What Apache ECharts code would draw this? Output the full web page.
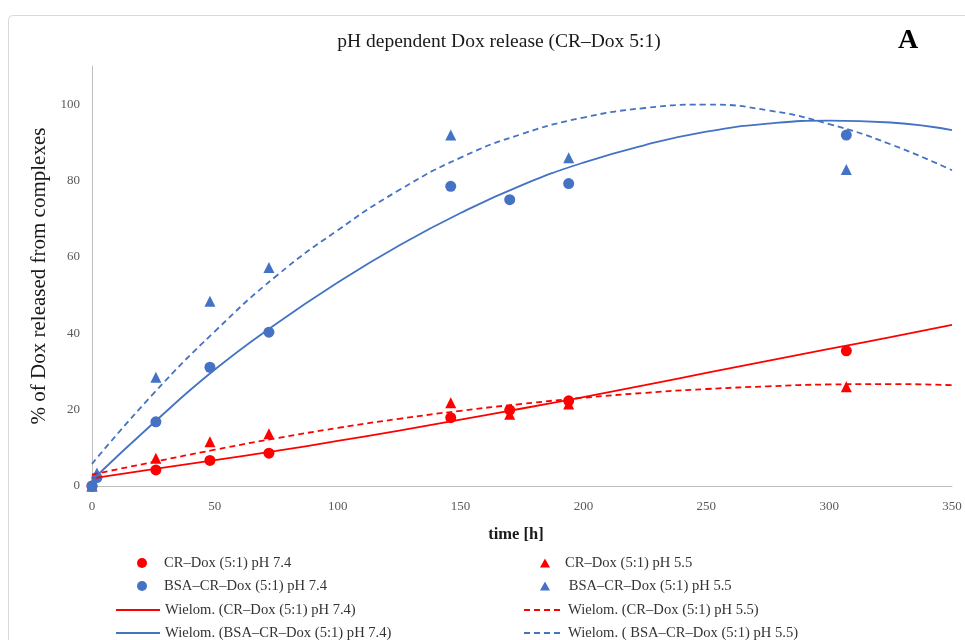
<!DOCTYPE html>
<html>
<head>
<meta charset="utf-8">
<script src="https://cdn.jsdelivr.net/npm/echarts@6/dist/echarts.min.js"></script>
<style>html,body{margin:0;padding:0;background:#fff}#c{width:965px;height:640px}</style>
</head>
<body>
<div id="c"></div>
<script>
// Measured time points [h]
const times = [0, 2, 26, 48, 72, 146, 170, 194, 307];
// Scatter series (% of Dox released)
const crDox74 = [0, null, 4.2, 6.7, 8.6, 17.9, 19.9, 22.3, 35.4];
const crDox55 = [0, null, 7.3, 11.6, 13.7, 21.8, 18.8, 21.5, 26.0];
const bsaDox74 = [0, 2.2, 16.8, 31.1, 40.3, 78.5, 75.0, 79.2, 91.9];
const bsaDox55 = [0, 3.4, 28.5, 48.4, 57.2, 91.9, null, 86.0, 82.9];
// Trend lines
const fitX = [0, 25, 50, 75, 100, 125, 150, 175, 200, 225, 250, 275, 300, 325, 350];
const fitCr74 = [2.0, 4.4, 6.8, 9.2, 11.8, 14.5, 17.4, 20.3, 23.3, 26.4, 29.6, 32.8, 35.9, 39.0, 42.2];
const fitCr55 = [3.0, 6.3, 9.5, 12.5, 15.2, 17.6, 19.7, 21.5, 23.1, 24.4, 25.4, 26.1, 26.6, 26.7, 26.4];
const fitBsa74 = [1.5, 16.5, 30.5, 42.5, 53.3, 63.0, 71.5, 78.8, 84.7, 89.3, 92.8, 94.9, 95.7, 95.2, 93.2];
const fitBsa55 = [5.8, 24.2, 40.5, 55.0, 67.0, 77.5, 86.0, 92.2, 96.5, 99.0, 99.9, 98.4, 94.8, 89.5, 82.7];
const yTicks = [0, 20, 40, 60, 80, 100];

const names = {
  cr74: 'CR–Dox (5:1) pH 7.4',
  cr55: 'CR–Dox (5:1) pH 5.5',
  bsa74: 'BSA–CR–Dox (5:1) pH 7.4',
  bsa55: ' BSA–CR–Dox (5:1) pH 5.5',
  wCr74: 'Wielom. (CR–Dox (5:1) pH 7.4)',
  wCr55: 'Wielom. (CR–Dox (5:1) pH 5.5)',
  wBsa74: 'Wielom. (BSA–CR–Dox (5:1) pH 7.4)',
  wBsa55: 'Wielom. ( BSA–CR–Dox (5:1) pH 5.5)'
};
const RED = '#ff0000', BLUE = '#4472c4';
const FONT = '"Liberation Serif", "DejaVu Serif", serif';
// legend icons: padded boxes so the marker sits where the reference has it
const ICON_CIRCLE = 'path://M0,0M34,10M22,5A5,5,0,1,0,12,5A5,5,0,1,0,22,5Z';
const ICON_TRI = 'path://M0,0M30,10M10,9.5L15,0.5L20,9.5Z';

const pairs = (xs, ys) => xs.map((x, i) => [x, ys[i]]).filter(p => p[1] !== null);

function scatter(name, ys, color, symbol) {
  return { name, type: 'scatter', data: pairs(times, ys), symbol, symbolSize: 11,
    itemStyle: { color, opacity: 1 }, z: 3 };
}
function trend(name, ys, color, dashed) {
  return { name, type: 'line', data: pairs(fitX, ys), smooth: true, symbol: 'none',
    lineStyle: { color, width: 1.8, type: dashed ? [6, 4] : 'solid' }, itemStyle: { color }, z: 4 };
}
const legendText = { fontFamily: FONT, fontSize: 14.6, color: '#333', lineHeight: 16 };
function legend(left, top, w, data, isLine, icon) {
  const l = { orient: 'vertical', left, top, height: 80, padding: 0, itemWidth: w, itemHeight: 10, itemGap: 7,
    selectedMode: false, textStyle: legendText, data: data.map(n => icon ? { name: n, icon } : { name: n }) };
  if (isLine) l.itemStyle = { opacity: 0 };
  return l;
}

const chart = echarts.init(document.getElementById('c'), null, { renderer: 'canvas' });
chart.setOption({
  backgroundColor: '#fff',
  animation: false,
  graphic: [{ type: 'rect', left: 6, top: 13, shape: { width: 1000, height: 700, r: 4 },
    style: { fill: 'none', stroke: '#d9d9d9', lineWidth: 1 }, z: -1 }],
  title: [
    { text: 'pH dependent Dox release (CR–Dox 5:1)', left: 494, top: 27, textAlign: 'center',
      textStyle: { fontFamily: FONT, fontSize: 19.5, fontWeight: 'normal', color: '#1a1a1a' } },
    { text: 'A', left: 893, top: 22, textStyle: { fontFamily: FONT, fontSize: 28, fontWeight: 'bold', color: '#000' } }
  ],
  grid: { left: 92, right: 13, top: 66, bottom: 154 },
  xAxis: {
    type: 'value', min: 0, max: 350, interval: 50,
    name: 'time [h]', nameLocation: 'middle', nameGap: 40,
    nameTextStyle: { fontFamily: FONT, fontSize: 16.5, fontWeight: 'bold', color: '#1a1a1a', padding: [0, 12, 0, 0] },
    axisLine: { show: true, lineStyle: { color: '#bfbfbf', width: 1 } },
    axisTick: { show: false }, splitLine: { show: false },
    axisLabel: { margin: 14, fontFamily: FONT, fontSize: 13, color: '#595959' }
  },
  yAxis: {
    type: 'value', min: 0, max: 110, interval: 20,
    name: '% of Dox released from complexes', nameLocation: 'middle', nameGap: 40,
    nameTextStyle: { fontFamily: FONT, fontSize: 21, color: '#1a1a1a' },
    axisLine: { show: true, lineStyle: { color: '#bfbfbf', width: 1 } },
    axisTick: { show: false }, splitLine: { show: false },
    axisLabel: { margin: 12, fontFamily: FONT, fontSize: 13, color: '#595959', showMaxLabel: false,
      formatter: v => yTicks.includes(v) ? String(v) : '' }
  },
  legend: [
    legend(125, 555, 34, [names.cr74, names.bsa74], false, ICON_CIRCLE),
    legend(115, 602, 44, [names.wCr74, names.wBsa74], true, null),
    legend(530, 555, 30, [names.cr55, names.bsa55], false, ICON_TRI),
    legend(523, 602, 39, [names.wCr55, names.wBsa55], true, null)
  ],
  series: [
    scatter(names.cr74, crDox74, RED, 'circle'),
    scatter(names.cr55, crDox55, RED, 'triangle'),
    scatter(names.bsa74, bsaDox74, BLUE, 'circle'),
    scatter(names.bsa55, bsaDox55, BLUE, 'triangle'),
    trend(names.wCr74, fitCr74, RED, false),
    trend(names.wCr55, fitCr55, RED, true),
    trend(names.wBsa74, fitBsa74, BLUE, false),
    trend(names.wBsa55, fitBsa55, BLUE, true)
  ]
});
</script>
</body>
</html>
